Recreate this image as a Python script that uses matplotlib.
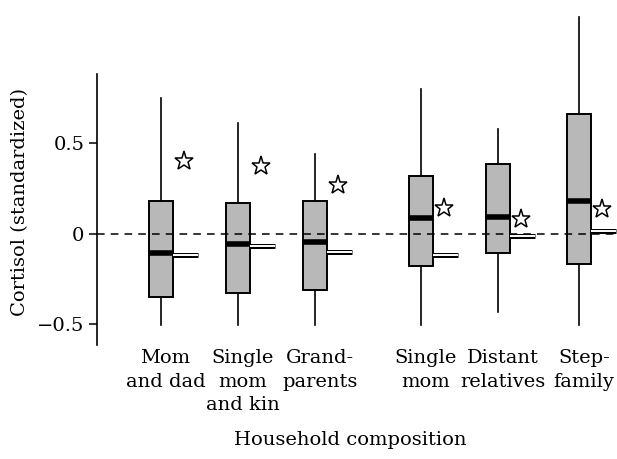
import matplotlib
matplotlib.use("Agg")
import matplotlib.pyplot as plt
import numpy as np

labels = ["Mom\nand dad", "Single\nmom\nand kin", "Grand-\nparents",
          "Single\nmom", "Distant\nrelatives", "Step-\nfamily"]
positions = [1.0, 2.0, 3.0, 4.38, 5.38, 6.43]
q1 = [-0.35, -0.325, -0.31, -0.18, -0.105, -0.165]
q3 = [0.18, 0.17, 0.18, 0.32, 0.385, 0.665]
medians = [-0.105, -0.055, -0.045, 0.09, 0.095, 0.18]
whis_lo = [-0.505, -0.505, -0.505, -0.505, -0.435, -0.505]
whis_hi = [0.75, 0.61, 0.44, 0.80, 0.58, 1.20]
stars = [0.40, 0.375, 0.27, 0.145, 0.08, 0.135]
means = [-0.115, -0.065, -0.10, -0.115, -0.01, 0.015]

plt.rcParams['font.family'] = ['DejaVu Serif']

fig = plt.figure(figsize=(6.17, 4.59), dpi=100)
ax = fig.add_axes([97 / 617, 1 - 345 / 459, 1 - 97 / 617, (345 - 15) / 459])

stats = []
for i in range(len(labels)):
    stats.append(dict(med=medians[i], q1=q1[i], q3=q3[i],
                      whislo=whis_lo[i], whishi=whis_hi[i], fliers=[]))

box_w = 0.31
ax.bxp(stats, positions=positions, widths=box_w, showcaps=False,
       showfliers=False, patch_artist=True,
       boxprops=dict(facecolor="#b8b8b8", edgecolor="black", linewidth=1.4),
       medianprops=dict(color="black", linewidth=4, solid_capstyle="butt"),
       whiskerprops=dict(color="black", linewidth=1.2))

# zero reference line
ax.axhline(0, color="black", linestyle=(0, (5, 4)), linewidth=1.1, zorder=4)

# means as double lines beside each box
for p, m in zip(positions, means):
    x0 = p + box_w / 2
    x1 = p + 0.48
    ax.plot([x0, x1], [m, m], color="black", linewidth=3.6,
            solid_capstyle="butt", zorder=5)
    ax.plot([x0, x1], [m, m], color="white", linewidth=1.4,
            solid_capstyle="butt", zorder=6)

# star markers
ax.plot([p + 0.3 for p in positions], stars, linestyle="none", marker="*",
        markersize=14, markerfacecolor="white", markeredgecolor="black",
        markeredgewidth=1.1, zorder=7)

ax.set_xlim(0.17, 6.92)
ax.set_ylim(-0.615, 1.21)
ax.spines["top"].set_visible(False)
ax.spines["right"].set_visible(False)
ax.spines["bottom"].set_visible(False)
ax.spines["left"].set_bounds(-0.615, 0.885)
ax.spines["left"].set_linewidth(1.2)

ax.set_yticks([-0.5, 0, 0.5])
ax.set_yticklabels(["\u22120.5", "0", "0.5"])
ax.tick_params(axis="y", direction="out", length=6, width=1.1,
               labelsize=14, pad=3)
ax.set_xticks([p + 0.06 for p in positions])
ax.set_xticklabels(labels, fontsize=14, linespacing=1.4)
ax.tick_params(axis="x", length=0, pad=3)

fig.text(20 / 617, 1 - 202 / 459, "Cortisol (standardized)", rotation=90,
         ha="center", va="center", fontsize=14)
fig.text(350 / 617, 1 - 440 / 459, "Household composition",
         ha="center", va="center", fontsize=14)

fig.savefig("out.png", dpi=100)
